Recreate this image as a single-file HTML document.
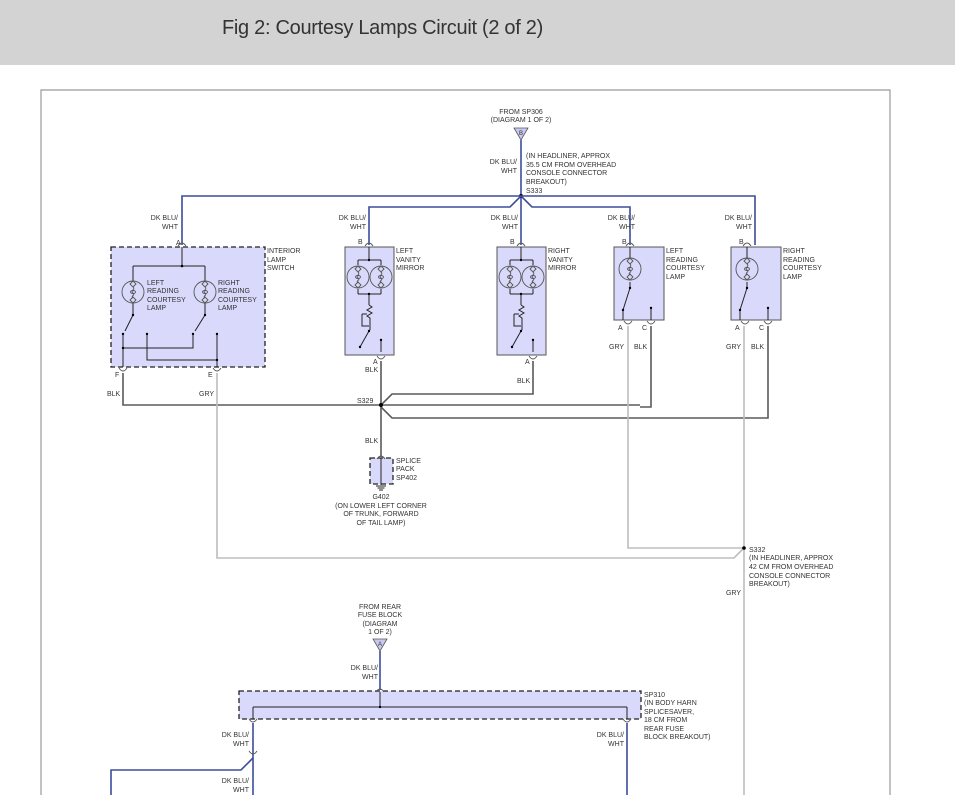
<!DOCTYPE html>
<html><head><meta charset="utf-8"><style>
html,body{margin:0;padding:0;background:#fff;width:955px;height:808px;overflow:hidden}
#hdr{position:absolute;left:0;top:0;width:955px;height:65px;background:#d3d3d3}
#hdr span{position:absolute;left:222px;top:17px;font-family:"Liberation Sans",sans-serif;font-size:20px;color:#333;letter-spacing:-0.3px}
svg{position:absolute;left:0;top:0}
text{font-family:"Liberation Sans",sans-serif;font-size:7px;fill:#333}
.b{stroke:#3b4d9c;stroke-width:1.6;fill:none}
.k{stroke:#5a5a5a;stroke-width:1.6;fill:none}
.g{stroke:#bdbdbd;stroke-width:1.6;fill:none}
.t{stroke:#222;stroke-width:1;fill:none}
.box{fill:#d9d9fb;stroke:#555;stroke-width:1}
.dbox{fill:#d9d9fb;stroke:#222;stroke-width:1.3;stroke-dasharray:5,3}
.c{stroke:#555;stroke-width:0.9;fill:none}
</style></head><body>
<div id="hdr"><span>Fig 2: Courtesy Lamps Circuit (2 of 2)</span></div>
<svg width="955" height="808" viewBox="0 0 955 808">
<defs>
<g id="lamp"><circle r="11" class="c" fill="none"/><path d="M0,-11 l-3,3 l3,3 l3,-3z M0,11 l-3,-3 l3,-3 l3,3z" class="c"/><path d="M0,-5 c3,2 -3,4 0,6 c3,2 -3,3 0,5" class="c"/><ellipse cx="0" cy="0" rx="2.5" ry="1.5" class="c"/></g>
<path id="cup" d="M-4,3 Q0,-3 4,3" class="c"/>
</defs>
<!-- frame -->
<path d="M41,795 V90 H890 V795" stroke="#999" stroke-width="1.2" fill="none"/>

<!-- top source -->
<text x="521" y="114" text-anchor="middle">FROM SP306</text>
<text x="521" y="122" text-anchor="middle">(DIAGRAM 1 OF 2)</text>
<path d="M514,128 H528 L521,140 Z" fill="#c9c9f0" stroke="#555" stroke-width="0.8"/>
<text x="521" y="135" text-anchor="middle" style="font-size:6px">B</text>
<path class="b" d="M521,140 V245"/>
<text x="517" y="164" text-anchor="end">DK BLU/</text>
<text x="517" y="173" text-anchor="end">WHT</text>
<text x="526" y="158">(IN HEADLINER, APPROX</text>
<text x="526" y="167">35.5 CM FROM OVERHEAD</text>
<text x="526" y="175">CONSOLE CONNECTOR</text>
<text x="526" y="184">BREAKOUT)</text>
<text x="526" y="193">S333</text>
<circle cx="521" cy="196" r="2" fill="#000"/>
<path class="b" d="M521,196 H182 V245"/>
<path class="b" d="M521,196 L510,207 H369 V245"/>
<path class="b" d="M521,196 L532,207 H630 V245"/>
<path class="b" d="M521,196 H755 V245"/>
<!-- wire labels top -->
<text x="178" y="220" text-anchor="end">DK BLU/</text><text x="178" y="229" text-anchor="end">WHT</text>
<text x="366" y="220" text-anchor="end">DK BLU/</text><text x="366" y="229" text-anchor="end">WHT</text>
<text x="518" y="220" text-anchor="end">DK BLU/</text><text x="518" y="229" text-anchor="end">WHT</text>
<text x="635" y="220" text-anchor="end">DK BLU/</text><text x="635" y="229" text-anchor="end">WHT</text>
<text x="752" y="220" text-anchor="end">DK BLU/</text><text x="752" y="229" text-anchor="end">WHT</text>

<!-- interior lamp switch -->
<rect class="dbox" x="111" y="247" width="154" height="120"/>
<text x="176" y="245">A</text>
<use href="#cup" x="182" y="243"/>
<text x="267" y="253">INTERIOR</text><text x="267" y="262">LAMP</text><text x="267" y="270">SWITCH</text>
<path class="t" d="M182,247 V266 M133,266 H205 M133,266 V281 M205,266 V281 M133,303 V315 M205,303 V315 M133,315 L125,331 M205,315 L195,331 M123,334 V367 M123,348 H193 V334 M147,334 V360 H217 M217,334 V367"/>
<use href="#lamp" x="133" y="292"/><use href="#lamp" x="205" y="292"/>
<circle cx="182" cy="266" r="1.3"/><circle cx="133" cy="315" r="1.2"/><circle cx="205" cy="315" r="1.2"/><circle cx="123" cy="334" r="1.2"/><circle cx="193" cy="334" r="1.2"/><circle cx="147" cy="334" r="1.2"/><circle cx="217" cy="334" r="1.2"/><circle cx="123" cy="348" r="1.2"/><circle cx="217" cy="360" r="1.2"/>
<text x="147" y="285">LEFT</text><text x="147" y="293">READING</text><text x="147" y="302">COURTESY</text><text x="147" y="310">LAMP</text>
<text x="218" y="285">RIGHT</text><text x="218" y="293">READING</text><text x="218" y="302">COURTESY</text><text x="218" y="310">LAMP</text>
<use href="#cup" x="123" y="371" transform="rotate(180 123 371)"/><use href="#cup" x="217" y="371" transform="rotate(180 217 371)"/>
<text x="115" y="377">F</text><text x="208" y="377">E</text>
<text x="107" y="396">BLK</text><text x="199" y="396">GRY</text>

<!-- vanity mirrors -->
<g id="vm">
<rect class="box" x="345" y="247" width="49" height="108"/>
<text x="358" y="244">B</text><use href="#cup" x="369" y="243"/>
<path class="t" d="M369,247 V260 M358,260 H381 M358,260 V265 M381,260 V265 M358,289 V294 M381,294 V289 M358,294 H381 M369,294 V305 M369,305 l3,2 l-5,3 l5,3 l-5,3 l3,2 V330 M362,314 h5 M362,314 v12 h7 M369,331 L360,347 M381,340 V352"/>
<use href="#lamp" x="358" y="277"/><use href="#lamp" x="381" y="277"/>
<circle cx="369" cy="260" r="1.2"/><circle cx="369" cy="294" r="1.2"/><circle cx="369" cy="331" r="1.2"/><circle cx="360" cy="347" r="1.2"/><circle cx="381" cy="340" r="1.2"/>
<use href="#cup" x="381" y="359" transform="rotate(180 381 359)"/>
<text x="373" y="364">A</text>
</g>
<text x="396" y="253">LEFT</text><text x="396" y="262">VANITY</text><text x="396" y="270">MIRROR</text>
<use href="#vm" x="152"/>
<text x="548" y="253">RIGHT</text><text x="548" y="262">VANITY</text><text x="548" y="270">MIRROR</text>

<!-- reading lamps -->
<g id="rl">
<rect class="box" x="614" y="247" width="50" height="73"/>
<text x="622" y="244">B</text><use href="#cup" x="630" y="243"/>
<path class="t" d="M630,247 V258 M630,282 V288 M630,288 L623,310 M623,310 V320 M651,308 V320"/>
<use href="#lamp" x="630" y="269"/>
<circle cx="630" cy="288" r="1.2"/><circle cx="623" cy="310" r="1.2"/><circle cx="651" cy="308" r="1.2"/>
<use href="#cup" x="628" y="324" transform="rotate(180 628 324)"/><use href="#cup" x="651" y="324" transform="rotate(180 651 324)"/>
<text x="618" y="330">A</text><text x="642" y="330">C</text>
<text x="609" y="349">GRY</text><text x="634" y="349">BLK</text>
</g>
<text x="666" y="253">LEFT</text><text x="666" y="262">READING</text><text x="666" y="270">COURTESY</text><text x="666" y="279">LAMP</text>
<use href="#rl" x="117"/>
<text x="783" y="253">RIGHT</text><text x="783" y="262">READING</text><text x="783" y="270">COURTESY</text><text x="783" y="279">LAMP</text>

<!-- BLK grounds -->
<path class="k" d="M123,373 V405 H640 M381,361 V457"/>
<path class="k" d="M533,361 V394 H392 L381,405"/>
<path class="k" d="M651,326 V407 H640"/>
<path class="k" d="M768,326 V418 H392 L381,407"/>
<circle cx="381" cy="405" r="2" fill="#000"/>
<text x="357" y="403">S329</text>
<text x="365" y="372">BLK</text><text x="517" y="383">BLK</text>
<text x="365" y="443">BLK</text>
<rect class="dbox" x="370" y="458" width="23" height="26"/>
<use href="#cup" x="381" y="456"/>
<path class="t" d="M381,458 V485 M376,486 h10 M377.5,488 h7 M379,490 h4"/>
<text x="396" y="463">SPLICE</text><text x="396" y="471">PACK</text><text x="396" y="480">SP402</text>
<text x="381" y="499" text-anchor="middle">G402</text>
<text x="381" y="508" text-anchor="middle">(ON LOWER LEFT CORNER</text>
<text x="381" y="516" text-anchor="middle">OF TRUNK, FORWARD</text>
<text x="381" y="525" text-anchor="middle">OF TAIL LAMP)</text>

<!-- GRY -->
<path class="g" d="M217,373 V558 H734 L744,548"/>
<path class="g" d="M628,326 V548 H744"/>
<path class="g" d="M744,326 V795"/>
<circle cx="744" cy="548" r="1.8" fill="#000"/>
<text x="749" y="552">S332</text>
<text x="749" y="560">(IN HEADLINER, APPROX</text>
<text x="749" y="569">42 CM FROM OVERHEAD</text>
<text x="749" y="578">CONSOLE CONNECTOR</text>
<text x="749" y="586">BREAKOUT)</text>
<text x="741" y="595" text-anchor="end">GRY</text>

<!-- lower part -->
<text x="380" y="609" text-anchor="middle">FROM REAR</text>
<text x="380" y="617" text-anchor="middle">FUSE BLOCK</text>
<text x="380" y="626" text-anchor="middle">(DIAGRAM</text>
<text x="380" y="634" text-anchor="middle">1 OF 2)</text>
<path d="M373,639 H387 L380,651 Z" fill="#c9c9f0" stroke="#555" stroke-width="0.8"/>
<text x="380" y="646" text-anchor="middle" style="font-size:6px">A</text>
<path class="b" d="M380,651 V690"/>
<text x="378" y="670" text-anchor="end">DK BLU/</text><text x="378" y="679" text-anchor="end">WHT</text>
<rect class="dbox" x="239" y="691" width="402" height="28"/>
<use href="#cup" x="380" y="689"/>
<path class="t" d="M380,692 V707 M253,707 H627 M253,707 V719 M627,707 V719"/>
<circle cx="380" cy="707" r="1.2"/>
<text x="644" y="697">SP310</text><text x="644" y="705">(IN BODY HARN</text><text x="644" y="714">SPLICESAVER,</text><text x="644" y="722">18 CM FROM</text><text x="644" y="731">REAR FUSE</text><text x="644" y="739">BLOCK BREAKOUT)</text>
<use href="#cup" x="253" y="722" transform="rotate(180 253 722)"/><use href="#cup" x="627" y="722" transform="rotate(180 627 722)"/>
<path class="b" d="M253,723 V795 M627,723 V795"/>
<path class="b" d="M253,758 L241,770 H111 V795"/>
<use href="#cup" x="253" y="754" transform="rotate(180 253 754)"/>
<text x="249" y="737" text-anchor="end">DK BLU/</text><text x="249" y="746" text-anchor="end">WHT</text>
<text x="249" y="783" text-anchor="end">DK BLU/</text><text x="249" y="792" text-anchor="end">WHT</text>
<text x="624" y="737" text-anchor="end">DK BLU/</text><text x="624" y="746" text-anchor="end">WHT</text>
</svg>
</body></html>
